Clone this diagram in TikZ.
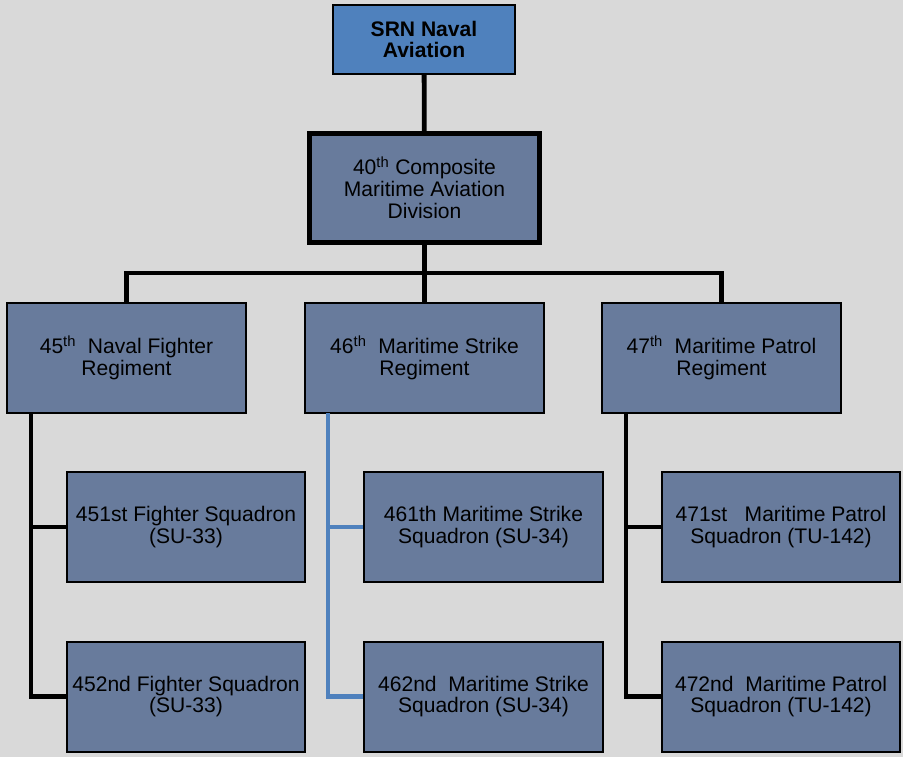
\documentclass[tikz,border=0pt]{standalone}
\usepackage{fontspec}
\setmainfont{Liberation Sans}
\definecolor{pagegray}{HTML}{D9D9D9}
\definecolor{navalblue}{HTML}{4F81BD}
\definecolor{slateblue}{HTML}{687B9C}

\begin{document}
\begin{tikzpicture}[x=0.75pt, y=-0.75pt, every node/.style={align=center, font=\fontsize{15.8}{16.4}\selectfont},
  unitbox/.style={draw, rectangle, fill=slateblue, line width=1.5pt, inner sep=0pt, minimum width=179pt, minimum height=82.5pt},
  link/.style={line width=3.6pt}]
% Page background
\fill[pagegray] (0,0) rectangle (903,757);
\useasboundingbox (0,0) rectangle (903,757);

% Command levels
\node[draw, rectangle, fill=navalblue, line width=1.5pt, inner sep=0pt, minimum width=136.5pt, minimum height=51.75pt] (srn) at (424,39.5) {\textbf{SRN Naval}\\\textbf{Aviation}};
\node[unitbox, line width=3.6pt, minimum width=172.5pt, minimum height=82pt] (division) at (424.5,188) {40\textsuperscript{th} Composite\\Maritime Aviation\\Division};

% Regiments
\node[unitbox] (fighter) at (126.5,358) {45\textsuperscript{th}\ \ Naval Fighter\\Regiment};
\node[unitbox] (strike) at (424.5,358) {46\textsuperscript{th}\ \ Maritime Strike\\Regiment};
\node[unitbox] (patrol) at (721.5,358) {47\textsuperscript{th}\ \ Maritime Patrol\\Regiment};

% Squadrons
\node[unitbox] (fighterA) at (186,527) {451st Fighter Squadron\\(SU-33)};
\node[unitbox] (fighterB) at (186,696.5) {452nd Fighter Squadron\\(SU-33)};
\node[unitbox] (strikeA) at (483.5,527) {461th Maritime Strike\\Squadron (SU-34)};
\node[unitbox] (strikeB) at (483.5,696.5) {462nd\ \ Maritime Strike\\Squadron (SU-34)};
\node[unitbox] (patrolA) at (781,527) {471st\ \ \ Maritime Patrol\\Squadron (TU-142)};
\node[unitbox] (patrolB) at (781,696.5) {472nd\ \ Maritime Patrol\\Squadron (TU-142)};

% Connectors
\coordinate (bus) at (424.5,273);
\coordinate (fighterTrunk) at (31,413);
\coordinate (strikeTrunk) at (328,413);
\coordinate (patrolTrunk) at (626,413);
\draw[link] (srn) -- (division);
\draw[link] (division) -- (strike);
\draw[link] (fighter.north) |- (bus) -| (patrol.north);
\draw[link] (fighterTrunk) |- (fighterA.west);
\draw[link] (fighterTrunk) |- (fighterB.west);
\draw[link, navalblue] (strikeTrunk) |- (strikeA.west);
\draw[link, navalblue] (strikeTrunk) |- (strikeB.west);
\draw[link] (patrolTrunk) |- (patrolA.west);
\draw[link] (patrolTrunk) |- (patrolB.west);
\end{tikzpicture}
\end{document}
